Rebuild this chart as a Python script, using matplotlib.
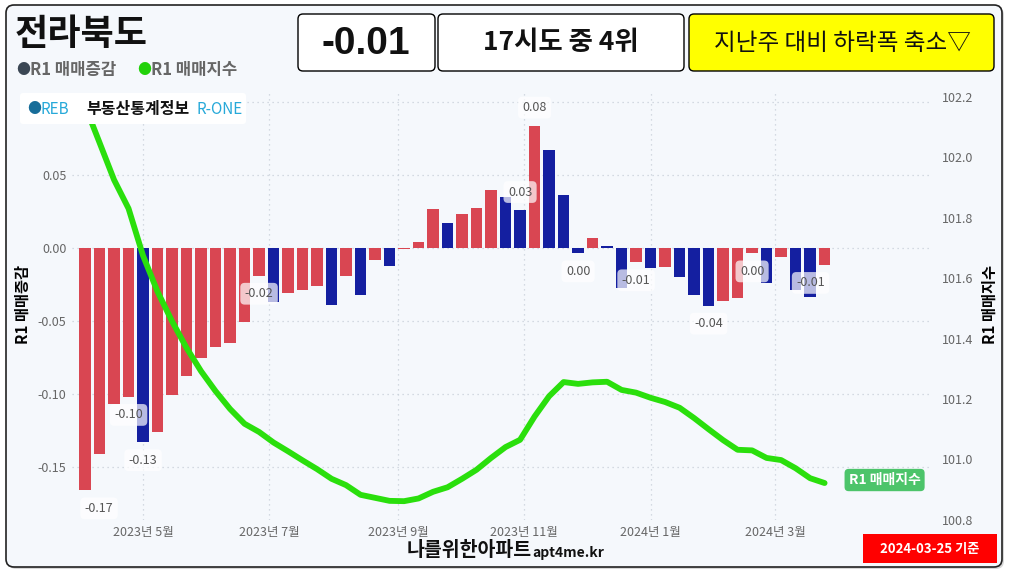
import numpy as np
import pandas as pd
import matplotlib
matplotlib.use("Agg")
import matplotlib.pyplot as plt
import matplotlib.dates as mdates
from matplotlib.patches import FancyBboxPatch
from matplotlib.transforms import IdentityTransform

plt.rcParams['font.family'] = ['Noto Sans CJK KR', 'DejaVu Sans']

# weekly data, 2023-04-03 .. 2024-03-25
weeks = pd.date_range('2023-04-03', '2024-03-25', freq='7D')
change = [-0.166, -0.141, -0.107, -0.102, -0.133, -0.126, -0.101, -0.088, -0.075, -0.068,
          -0.065, -0.051, -0.019, -0.037, -0.031, -0.029, -0.026, -0.039, -0.019, -0.032,
          -0.008, -0.0125, -0.001, 0.004, 0.0265, 0.017, 0.023, 0.0276, 0.0395, 0.0347,
          0.026, 0.0838, 0.067, 0.0363, -0.0037, 0.0066, 0.0012, -0.0276, -0.0098, -0.0137,
          -0.0128, -0.0199, -0.0324, -0.0395, -0.0366, -0.0345, -0.0037, -0.024, -0.0064, -0.0288,
          -0.0338, -0.0116]
index = [102.17, 102.048, 101.925, 101.830, 101.674, 101.555, 101.457, 101.369, 101.292, 101.226,
         101.167, 101.118, 101.091, 101.056, 101.027, 100.997, 100.968, 100.936, 100.915, 100.883,
         100.873, 100.863, 100.862, 100.871, 100.893, 100.908, 100.936, 100.966, 101.005, 101.041,
         101.065, 101.142, 101.209, 101.256, 101.250, 101.255, 101.257, 101.230, 101.221, 101.204,
         101.190, 101.171, 101.137, 101.100, 101.064, 101.032, 101.030, 101.005, 100.998, 100.971,
         100.938, 100.922]

# bar labels: (bar number, text, x shift in px)
bar_labels = [(0, '-0.17', 14), (3, '-0.10', 0), (4, '-0.13', 0), (12, '-0.02', 0),
              (30, '0.03', 0), (31, '0.08', 0), (34, '0.00', 0), (38, '-0.01', 0),
              (43, '-0.04', 0), (46, '0.00', 0), (51, '-0.01', -14)]

month_ticks = pd.to_datetime(['2023-05-01', '2023-07-01', '2023-09-01', '2023-11-01',
                              '2024-01-01', '2024-03-01'])
month_labels = ['2023년 5월', '2023년 7월', '2023년 9월', '2023년 11월', '2024년 1월', '2024년 3월']

left_ticks = [-0.15, -0.10, -0.05, 0.0, 0.05, 0.10]
right_ticks = [100.8, 101.0, 101.2, 101.4, 101.6, 101.8, 102.0, 102.2]

RED = '#d94652'
BLUE = '#141fa0'
GREEN = '#2adf0c'
BG = '#f5f8fc'
W, H = 1009, 574

fig = plt.figure(figsize=(W / 100, H / 100), dpi=100)
fig.patch.set_facecolor('white')


def box(x0, y0, x1, y1, fc, ec='black', lw=1.0, r=5, z=1):
    p = FancyBboxPatch((x0, H - y1), x1 - x0, y1 - y0,
                       boxstyle=f'round,pad=0,rounding_size={r}',
                       fc=fc, ec=ec, lw=lw, transform=IdentityTransform(), zorder=z)
    fig.add_artist(p)


def ftext(x, y, s, **kw):
    fig.text(x / W, 1 - y / H, s, **kw)


# outer frame with a little shadow
box(8, 7, 1004, 569, '#d8d8d8', ec='none', r=8, z=0)
box(6, 5, 1002, 567, BG, ec='#222222', lw=1.2, r=8, z=0)

ax = fig.add_axes([72 / W, 1 - 520 / H, (929 - 72) / W, (520 - 90) / H])
ax.patch.set_alpha(0)

vals = np.array(change)
colors = [RED] + [RED if d > 0 else BLUE for d in np.diff(vals)]
ax.bar(weeks, vals, width=5.5, color=colors, zorder=2)

for i, txt, dx in bar_labels:
    dy = 18 if vals[i] > 0 else -18
    ax.annotate(txt, (weeks[i], vals[i]), xytext=(dx, dy), textcoords='offset pixels',
                ha='center', va='center', fontsize=9, color='#555555', zorder=4,
                bbox=dict(boxstyle='round,pad=0.35', fc='white', ec='none', alpha=0.7))

ax.set_ylim(-(520 - 248) / 1460, (248 - 90) / 1460)
x0 = mdates.date2num(weeks[0])
ax.set_xlim(x0 - 6.3, x0 + 58.2 * 7)
ax.set_yticks(left_ticks)
# the top label sits under the logo strip in the original
ax.set_yticklabels([f'{t:.2f}' if t < 0.1 else '' for t in left_ticks])
ax.set_xticks(month_ticks)
ax.set_xticklabels(month_labels)
ax.tick_params(axis='both', length=0, labelsize=9, labelcolor='#666666')
ax.tick_params(axis='y', pad=4)
ax.tick_params(axis='x', pad=4)
ax.grid(True, linestyle=(0, (1, 3)), color='#c8d0da', linewidth=0.9)
ax.set_axisbelow(True)
for s in ax.spines.values():
    s.set_visible(False)
ax.set_ylabel('R1 매매증감', fontsize=11, fontweight='bold', labelpad=5)

ax2 = ax.twinx()
ax2.plot(weeks, index, color=GREEN, lw=4.2, solid_capstyle='round', solid_joinstyle='round', zorder=3)
ax2.set_ylim(100.8 - 0.0003, 102.2 + (96.7 - 90) / 302.4)
ax2.set_yticks(right_ticks)
ax2.set_yticklabels([f'{t:.1f}' for t in right_ticks])
ax2.tick_params(axis='y', length=0, labelsize=9, labelcolor='#666666', pad=9)
for s in ax2.spines.values():
    s.set_visible(False)
ax2.set_ylabel('R1 매매지수', fontsize=11, fontweight='bold', labelpad=6)
ax2.annotate('R1 매매지수', (weeks[-1], index[-1]), xytext=(60, 3), textcoords='offset pixels',
             ha='center', va='center', fontsize=10, fontweight='bold', color='white',
             bbox=dict(boxstyle='round,pad=0.3', fc='#4cc46a', ec='none'))

# header
ftext(15, 34, '전라북도', fontsize=26, fontweight='bold', va='center', color='#111111')
ftext(16, 70, '●', fontsize=10, va='center', color='#3b4754')
ftext(30, 70, 'R1 매매증감', fontsize=12, fontweight='bold', va='center', color='#666666')
ftext(137, 70, '●', fontsize=10, va='center', color='#22d10a')
ftext(151, 70, 'R1 매매지수', fontsize=12, fontweight='bold', va='center', color='#666666')

box(298, 14, 435, 71, 'white', lw=1.0)
ftext(366, 44, '-0.01', fontsize=28, fontweight='bold', ha='center', va='center',
      family=['Liberation Sans', 'DejaVu Sans'], color='#111111')
box(438, 14, 684, 71, 'white', lw=1.0)
ftext(561, 43, '17시도 중 4위', fontsize=19, fontweight='bold', ha='center', va='center', color='#111111')
box(689, 14, 994, 71, '#ffff00', lw=1.0)
ftext(842, 43, '지난주 대비 하락폭 축소▽', fontsize=17, ha='center', va='center', color='#111111')

# R-ONE logo strip
box(20, 93, 246, 124, 'white', ec='none', r=3, z=3)
ftext(27, 109, '●', fontsize=10, va='center', color='#176d99', zorder=4)
ftext(41, 109, 'REB', fontsize=11, va='center', color='#27a9d9', zorder=4)
ftext(86, 109, '부동산통계정보', fontsize=11.5, fontweight='bold', va='center', color='#111111', zorder=4)
ftext(196, 109, 'R-ONE', fontsize=11, va='center', color='#27a9d9', zorder=4)

# footer
ftext(532, 550, '나를위한아파트', fontsize=14, fontweight='bold', ha='right', va='center', color='#111111')
ftext(532, 553, 'apt4me.kr', fontsize=10, fontweight='bold', ha='left', va='center', color='#111111')
box(863, 534, 997, 563, '#ff0000', ec='none', r=0)
ftext(930, 549, '2024-03-25 기준', fontsize=9.5, fontweight='bold', ha='center', va='center', color='white')

fig.savefig('out.png', dpi=100)
